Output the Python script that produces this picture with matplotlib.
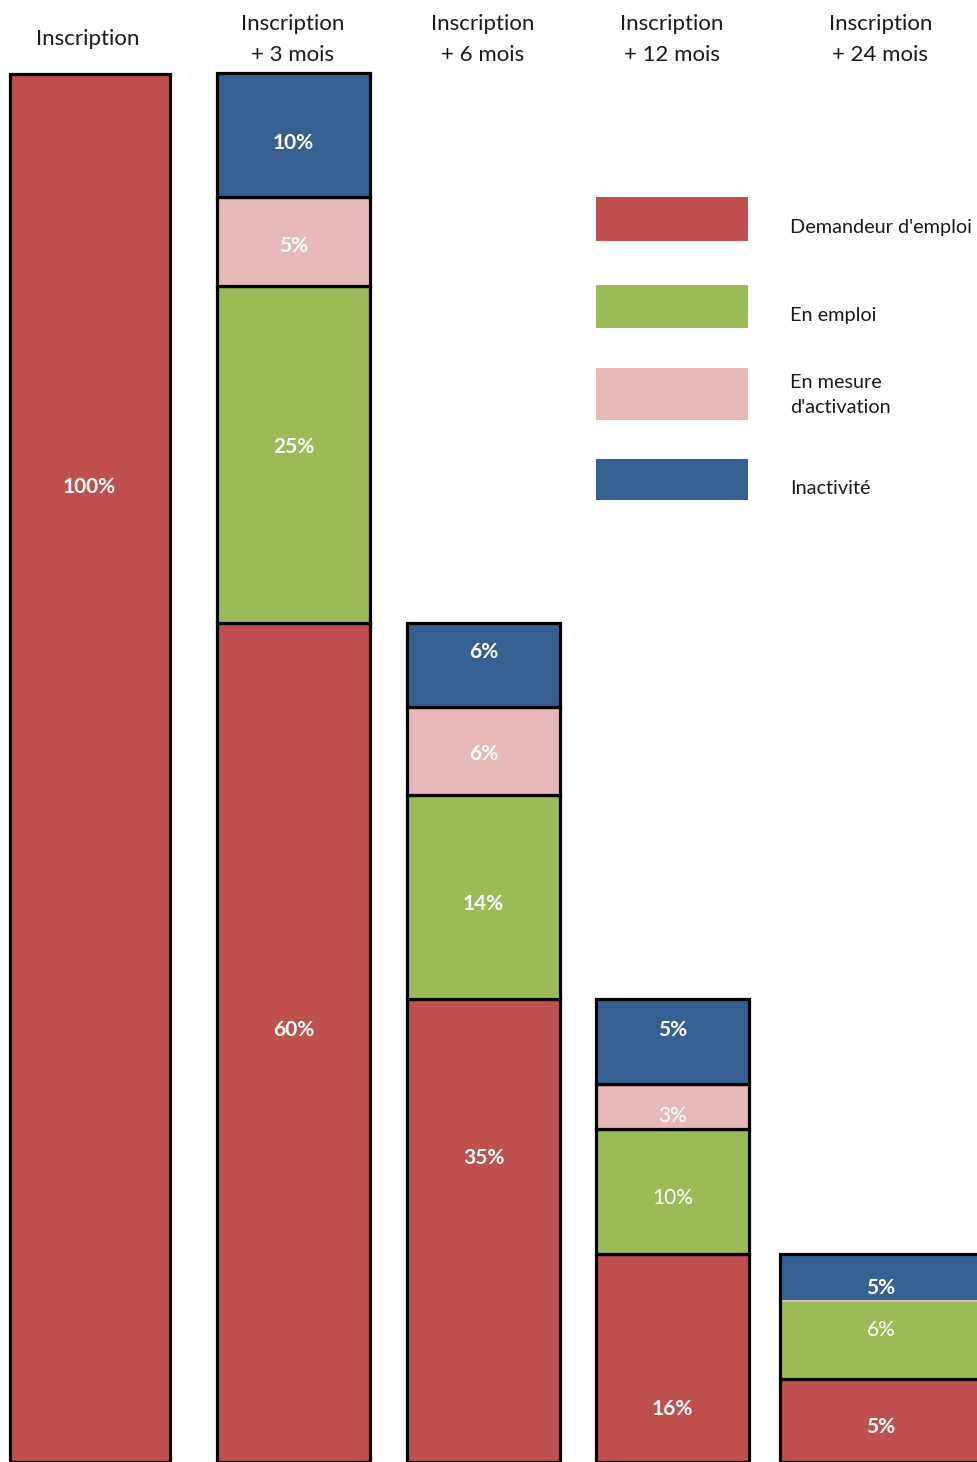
import matplotlib
matplotlib.use("Agg")
import matplotlib.pyplot as plt
from matplotlib.patches import Rectangle

plt.rcParams['font.family'] = ['Lato', 'DejaVu Sans']

# Data (segment heights, bar 1 = 100)
headers = ["Inscription", "Inscription\n+ 3 mois", "Inscription\n+ 6 mois",
           "Inscription\n+ 12 mois", "Inscription\n+ 24 mois"]
categories = ["Demandeur d'emploi", "En emploi", "En mesure\nd'activation", "Inactivité"]
demandeur = [100.0, 60.45, 33.36, 14.99, 5.98]
en_emploi = [0.0, 24.28, 14.70, 9.01, 5.55]
activation = [0.0, 6.41, 6.34, 3.24, 0.14]
inactivite = [0.0, 8.93, 6.05, 6.12, 3.31]
labels = [
    ["100%", "", "", ""],
    ["60%", "25%", "5%", "10%"],
    ["35%", "14%", "6%", "6%"],
    ["16%", "10%", "3%", "5%"],
    ["5%", "6%", "", "5%"],
]

# layout
colors = ["#C0504D", "#9BBB59", "#E6B9B8", "#366092"]
bar_x = [89.5, 293.5, 483.5, 672.5, 881]
bar_w = [160, 153, 153, 153, 202]
label_y = [
    [70.4, 0, 0, 0],
    [31.3, 73.3, 87.8, 95.2],
    [22.1, 40.4, 51.2, 58.5],
    [4.0, 19.2, 25.1, 31.3],
    [2.7, 9.7, 0, 12.7],
]
bold = [
    [True] * 4,
    [True] * 4,
    [True] * 4,
    [True, False, False, True],
    [True, False, True, True],
]

W, H = 977, 1462
fig = plt.figure(figsize=(W / 100, H / 100), dpi=100)
ax = fig.add_axes([0, 0, 1, 1])
ax.set_xlim(0, W)
ax.set_ylim(0, 100 + 74 / 13.88)
ax.axis('off')

series = [demandeur, en_emploi, activation, inactivite]
bottom = [0.0] * 5
for s, vals in enumerate(series):
    for i, v in enumerate(vals):
        if v <= 0:
            continue
        edge = 'none' if (i == 4 and s > 0) else 'black'
        ax.bar(bar_x[i], v, width=bar_w[i], bottom=bottom[i], color=colors[s],
               edgecolor=edge, linewidth=2.3, zorder=2)
        if labels[i][s]:
            ax.text(bar_x[i], label_y[i][s] - 0.17, labels[i][s], ha='center', va='center',
                    color='white', fontsize=15,
                    fontweight='bold' if bold[i][s] else 'normal', zorder=4)
    bottom = [b + v for b, v in zip(bottom, vals)]

# outline around the upper group of the last bar
top_group = en_emploi[4] + activation[4] + inactivite[4]
ax.bar(bar_x[4], top_group, width=bar_w[4], bottom=demandeur[4], fill=False,
       edgecolor='black', linewidth=2.3, zorder=3)

# headers and legend in pixel coordinates
ov = fig.add_axes([0, 0, 1, 1])
ov.set_xlim(0, W)
ov.set_ylim(H, 0)
ov.axis('off')
ov.patch.set_alpha(0)

for i, h in enumerate(headers):
    y = 39 if "\n" not in h else 39.5
    ov.text(bar_x[i] - 0.5 if i else 88, y, h, ha='center', va='center', fontsize=16,
            color='#1a1a1a', linespacing=1.65)

leg_y = [(197, 241), (285, 328), (368, 420), (459, 500)]
leg_text_y = [228, 316, 395, 488]
for k, name in enumerate(categories):
    y0, y1 = leg_y[k]
    ov.add_patch(Rectangle((596, y0), 152, y1 - y0, facecolor=colors[k], edgecolor='none'))
    ov.text(790, leg_text_y[k], name, ha='left', va='center', fontsize=14.3,
            color='#1a1a1a', linespacing=1.6)

fig.savefig("out.png", dpi=100)
